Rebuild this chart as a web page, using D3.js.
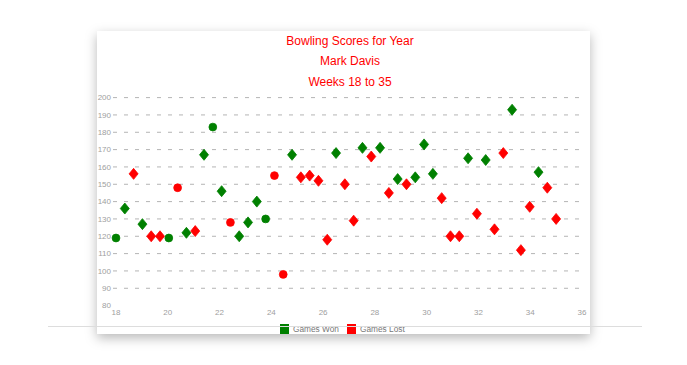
<!DOCTYPE html>
<html>
<head>
<meta charset="utf-8">
<script src="https://cdn.jsdelivr.net/npm/d3@7"></script>
<style>
html,body{margin:0;padding:0;background:#fff;}
svg{display:block;font-family:"Liberation Sans",Arial,sans-serif;}
</style>
</head>
<body>
<svg id="chart" width="687" height="365"></svg>
<script>
const titleLines = ["Bowling Scores for Year", "Mark Davis", "Weeks 18 to 35"];
const weekRange = [18, 35];
const scores = [119,136,156,127,120,120,119,148,122,123,167,183,146,128,120,128,140,130,155,98,167,154,155,152,118,168,150,129,171,166,171,145,153,150,154,173,156,142,120,120,165,133,164,124,168,193,112,137,157,148,130];
const results = ["W","W","L","W","L","L","W","L","W","L","W","W","W","L","W","W","W","W","L","L","W","L","L","L","L","W","L","L","W","L","W","L","W","L","W","W","W","L","L","L","W","L","W","L","L","W","L","L","W","L","L"];
const shapes = ["c","d","d","d","d","d","c","c","d","d","d","c","d","c","d","d","d","c","c","c","d","d","d","d","d","d","d","d","d","d","d","d","d","d","d","d","d","d","d","d","d","d","d","d","d","d","d","d","d","d","d"];
const xTicks = [18,20,22,24,26,28,30,32,34,36];
const yTicks = [80,90,100,110,120,130,140,150,160,170,180,190,200];
const legendItems = [{key:"W", label:"Games Won", color:"#008000"},{key:"L", label:"Games Lost", color:"#ff0000"}];
const colors = {W:"#008000", L:"#ff0000"};

const svg = d3.select("#chart");
const defs = svg.append("defs");
const f = defs.append("filter").attr("id","sh").attr("x","-10%").attr("y","-10%").attr("width","120%").attr("height","125%");
f.append("feDropShadow").attr("dx",0).attr("dy",4).attr("stdDeviation",6).attr("flood-color","#000").attr("flood-opacity",0.28);

svg.append("rect").attr("x",97).attr("y",31).attr("width",493).attr("height",303).attr("fill","#fff").attr("filter","url(#sh)");

const x = d3.scaleLinear().domain([18,36]).range([116,582]);
const y = d3.scaleLinear().domain([80,200]).range([305.6,97.6]);
const idx = d3.scaleLinear().domain([0, scores.length-1]).range(weekRange);

// title
svg.append("g").selectAll("text").data(titleLines).join("text")
  .attr("x",350).attr("y",(d,i)=>45+i*20.3).attr("text-anchor","middle")
  .attr("fill","#ff0000").attr("font-size","12px").text(d=>d);

// grid
const grid = svg.append("g");
grid.selectAll("line").data(yTicks.filter(t=>t>80)).join("line")
  .attr("x1",113).attr("x2",586).attr("y1",d=>y(d)).attr("y2",d=>y(d))
  .attr("stroke","#b4b4b4").attr("stroke-width",1).attr("stroke-dasharray","4,7");

// y labels
svg.append("g").selectAll("text").data(yTicks).join("text")
  .attr("x",111).attr("y",d=>y(d)).attr("dy","0.33em").attr("text-anchor","end")
  .attr("fill","#a0a0a0").attr("font-size","8px").text(d=>d);

// x labels
svg.append("g").selectAll("text").data(xTicks).join("text")
  .attr("x",d=>x(d)).attr("y",315).attr("text-anchor","middle")
  .attr("fill","#a0a0a0").attr("font-size","8px").text(d=>d);

// points
const pts = scores.map((s,i)=>({s, r:results[i], sh:shapes[i], w:idx(i)}));
const diamond = "M0,-5.5L4.5,0L0,5.5L-4.5,0Z";
const g = svg.append("g");
g.selectAll("path").data(pts).join("path")
  .attr("transform",d=>`translate(${x(d.w)},${y(d.s)})`)
  .attr("d",d=>d.sh==="c" ? d3.symbol(d3.symbolCircle, 48)() : diamond)
  .attr("fill",d=>colors[d.r]).attr("stroke",d=>colors[d.r]).attr("stroke-width",0.8);

// legend
const lg = svg.append("g");
const lx = [280, 347];
legendItems.forEach((it,i)=>{
  lg.append("rect").attr("x",lx[i]).attr("y",324).attr("width",9).attr("height",10).attr("fill",it.color);
  lg.append("text").attr("x",lx[i]+13).attr("y",332).attr("fill","#777").attr("font-size","8.3px").text(it.label);
});

// separator line
svg.append("line").attr("x1",48).attr("x2",642).attr("y1",326.5).attr("y2",326.5).attr("stroke","#ddd").attr("stroke-width",1);
</script>
</body>
</html>
